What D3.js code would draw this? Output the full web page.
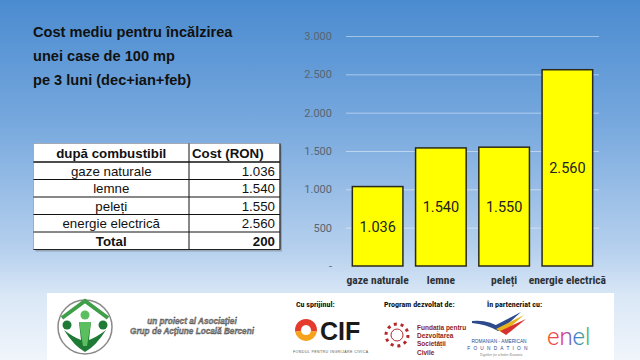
<!DOCTYPE html>
<html><head><meta charset="utf-8">
<script src="https://cdn.jsdelivr.net/npm/d3@7"></script>
<style>
html,body{margin:0;padding:0;overflow:hidden;}
svg{display:block;}
</style></head>
<body>
<script>
// ---------- data ----------
const categories = ["gaze naturale", "lemne", "peleți", "energie electrică"];
const costs = [1036, 1540, 1550, 2560];
const yTicks = [0, 500, 1000, 1500, 2000, 2500, 3000];
const titleLines = ["Cost mediu pentru încălzirea", "unei case de 100 mp", "pe 3 luni (dec+ian+feb)"];
const tableHeader = ["după combustibil", "Cost (RON)"];
const totalRow = ["Total", 200];
const assocLines = ["un proiect al Asociației", "Grup de Acțiune Locală Berceni"];
const footerHeads = ["Cu sprijinul:", "Program dezvoltat de:", "În parteneriat cu:"];
const fdscLines = ["Fundația pentru", "Dezvoltarea", "Societății", "Civile"];

const W = 640, H = 360;
const loc = d3.formatLocale({decimal: ",", thousands: ".", grouping: [3], currency: ["", ""]});
const fmt = loc.format(",d");

const svg = d3.select("body").append("svg").attr("width", W).attr("height", H);
const defs = svg.append("defs");
const bg = defs.append("linearGradient").attr("id", "bg").attr("x1", 0).attr("y1", 0).attr("x2", 0).attr("y2", 1);
[[0, "#4a8bd0"], [0.35, "#78a9de"], [0.7, "#b7d1ee"], [0.82, "#d9e7f6"], [1, "#f1f5fb"]].forEach(([o, c]) =>
  bg.append("stop").attr("offset", o).attr("stop-color", c));
svg.append("rect").attr("width", W).attr("height", H).attr("fill", "url(#bg)");

// ---------- title ----------
svg.append("g").selectAll("text").data(titleLines).join("text")
  .attr("x", 33).attr("y", (d, i) => 37 + i * 24)
  .attr("font-family", "Liberation Sans, Arial, sans-serif").attr("font-weight", "bold")
  .attr("font-size", 14.6).attr("fill", "#111").text(d => d);

// ---------- chart ----------
const x = d3.scaleBand().domain(categories).range([346, 599]).paddingInner(0.2).paddingOuter(0.1);
const y = d3.scaleLinear().domain([0, 3000]).range([266, 36]);

svg.append("g").attr("transform", "translate(346,0)")
  .call(d3.axisLeft(y).tickValues(yTicks.filter(v => v > 0)).tickSize(-253).tickFormat(""))
  .call(g => g.select(".domain").remove())
  .call(g => g.selectAll("line").attr("stroke", "rgba(255,255,255,0.45)"));

svg.append("g").attr("transform", "translate(346,0)")
  .call(d3.axisLeft(y).tickValues(yTicks).tickSize(0).tickPadding(14).tickFormat(v => v === 0 ? "-" : fmt(v)))
  .call(g => g.select(".domain").remove())
  .call(g => g.selectAll("text").attr("font-family", "Roboto, sans-serif").attr("font-size", 11).attr("fill", "#5a6470"));

const base = svg.append("g").attr("transform", "translate(0,266)");
base.append("line").attr("x1", 346).attr("x2", 599).attr("stroke", "#c9d7e6").attr("stroke-width", 1);
const bounds = categories.map(c => x(c) - x.step() * x.paddingInner() / 2).concat([599]);
base.selectAll(".tk").data(bounds).join("line").attr("class", "tk")
  .attr("x1", d => d).attr("x2", d => d).attr("y1", 0).attr("y2", 4).attr("stroke", "#c9d7e6");

svg.append("g").selectAll("rect").data(costs).join("rect")
  .attr("x", (d, i) => x(categories[i])).attr("width", x.bandwidth())
  .attr("y", d => y(d)).attr("height", d => y(0) - y(d))
  .attr("fill", "#ffff00").attr("stroke", "#2a2a1a").attr("stroke-width", 1.5);

svg.append("g").selectAll("text").data(costs).join("text")
  .attr("x", (d, i) => x(categories[i]) + x.bandwidth() / 2)
  .attr("y", d => (y(d) + y(0)) / 2).attr("dy", "0.36em").attr("text-anchor", "middle")
  .attr("font-family", "Roboto, sans-serif").attr("font-size", 14.5).attr("fill", "#222")
  .text(d => fmt(d));

svg.append("g").selectAll("text").data(categories).join("text")
  .attr("x", d => x(d) + x.bandwidth() / 2).attr("y", 284).attr("text-anchor", "middle")
  .attr("font-family", "Liberation Sans Narrow, Roboto Condensed, Roboto, sans-serif")
  .attr("font-weight", "bold").attr("font-size", 11.5).attr("fill", "#2d3136")
  .text(d => d);

// ---------- table ----------
const tX = 33.5, tW = 246.5, colX = 189, rowTop = [143.5, 162, 179.5, 197, 214.5, 232, 249.5];
const tbl = svg.append("g");
tbl.append("rect").attr("x", tX + 2).attr("y", rowTop[0] + 2).attr("width", tW).attr("height", rowTop[6] - rowTop[0])
  .attr("fill", "#7f8a96").attr("opacity", 0.6);
tbl.append("rect").attr("x", tX).attr("y", rowTop[0]).attr("width", tW).attr("height", rowTop[6] - rowTop[0])
  .attr("fill", "#fff").attr("stroke", "#9aa0a8").attr("stroke-width", 0.8);
tbl.selectAll(".hl").data(rowTop.slice(1, 6)).join("line").attr("class", "hl")
  .attr("x1", tX).attr("x2", tX + tW).attr("y1", d => d).attr("y2", d => d)
  .attr("stroke", "#111").attr("stroke-width", (d, i) => i === 0 ? 1.6 : 1);
tbl.append("line").attr("x1", colX).attr("x2", colX).attr("y1", rowTop[0]).attr("y2", rowTop[6]).attr("stroke", "#111");
tbl.append("line").attr("x1", tX + tW).attr("x2", tX + tW).attr("y1", rowTop[0]).attr("y2", rowTop[6]).attr("stroke", "#222").attr("stroke-width", 1.2);
tbl.append("line").attr("x1", tX).attr("x2", tX + tW).attr("y1", rowTop[6]).attr("y2", rowTop[6]).attr("stroke", "#222").attr("stroke-width", 1.2);

const rows = [tableHeader].concat(categories.map((c, i) => [c, costs[i]])).concat([totalRow]);
const tf = "Liberation Sans, Arial, sans-serif";
rows.forEach((r, i) => {
  const cy = (rowTop[i] + rowTop[i + 1]) / 2;
  const bold = i === 0 || i === rows.length - 1;
  tbl.append("text").attr("x", (tX + colX) / 2).attr("y", cy).attr("dy", "0.36em").attr("text-anchor", "middle")
    .attr("font-family", tf).attr("font-size", 13.3).attr("font-weight", bold ? "bold" : "normal").attr("fill", "#111")
    .text(r[0]);
  tbl.append("text").attr("x", i === 0 ? colX + 3 : tX + tW - 5).attr("y", cy).attr("dy", "0.36em")
    .attr("text-anchor", i === 0 ? "start" : "end")
    .attr("font-family", tf).attr("font-size", 13.3).attr("font-weight", bold ? "bold" : "normal").attr("fill", "#111")
    .text(typeof r[1] === "number" ? fmt(r[1]) : r[1]);
});

// ---------- footer ----------
const ft = svg.append("g");
const nf = "Liberation Sans Narrow, Roboto Condensed, Roboto, sans-serif";
ft.append("rect").attr("x", 47).attr("y", 293).attr("width", 567).attr("height", 67).attr("fill", "#fff");
// association logo
ft.append("circle").attr("cx", 85).attr("cy", 327).attr("r", 27).attr("fill", "#fff").attr("stroke", "#8a8a8a").attr("stroke-width", 1.5);
ft.append("path").attr("d", "M62,318 L85,301 L108,318").attr("fill", "none").attr("stroke", "#3f9e48").attr("stroke-width", 4);
ft.append("path").attr("d", "M64,330 Q74,346 85,352 Q96,346 106,330 Q97,337 89,340 L91,322 L79,322 L81,340 Q73,337 64,330Z").attr("fill", "#1f7a35");
ft.append("path").attr("d", "M79,322 L91,322 L87,346 L83,346Z").attr("fill", "#5cbf5f");
ft.append("circle").attr("cx", 85).attr("cy", 315).attr("r", 4.5).attr("fill", "#5cbf5f");
ft.append("circle").attr("cx", 67).attr("cy", 325).attr("r", 4.5).attr("fill", "#1f7a35");
ft.append("circle").attr("cx", 103).attr("cy", 325).attr("r", 4.5).attr("fill", "#1f7a35");
ft.selectAll(".assoc").data(assocLines).join("text").attr("class", "assoc")
  .attr("x", 192).attr("y", (d, i) => 324 + i * 9.5).attr("text-anchor", "middle")
  .attr("font-family", "Liberation Sans, Arial, sans-serif").attr("font-style", "italic").attr("font-weight", "bold")
  .attr("font-size", 8.2).attr("fill", "#9a9a9a").attr("stroke", "#333").attr("stroke-width", 0.35).text(d => d);

// headings
ft.selectAll(".fh").data(footerHeads).join("text").attr("class", "fh")
  .attr("x", (d, i) => [296, 384, 487][i]).attr("y", 307)
  .attr("font-family", nf).attr("font-weight", "bold").attr("font-size", 8).attr("fill", "#111").text(d => d);

// CIF logo
const arc = d3.arc().innerRadius(5).outerRadius(11);
const cif = ft.append("g").attr("transform", "translate(306,330)");
cif.append("path").attr("d", arc({startAngle: -Math.PI * 0.55, endAngle: Math.PI * 0.55})).attr("fill", "#e53b2c");
cif.append("path").attr("d", arc({startAngle: Math.PI * 0.55, endAngle: Math.PI * 1.45})).attr("fill", "#f5a31a");
ft.append("text").attr("x", 320).attr("y", 340).attr("font-family", "Liberation Sans, Arial, sans-serif")
  .attr("font-weight", "bold").attr("font-size", 25).attr("fill", "#1a1a1a").text("CIF");
ft.append("text").attr("x", 293).attr("y", 353).attr("font-family", "Liberation Sans, Arial, sans-serif")
  .attr("font-size", 3.6).attr("fill", "#555").attr("letter-spacing", 0.4).text("FONDUL PENTRU ÎNGRIJARE CIVICĂ");

// FDSC logo
const fd = ft.append("g").attr("transform", "translate(397,335)");
fd.append("circle").attr("r", 11).attr("fill", "none").attr("stroke", "#b5262a").attr("stroke-width", 3).attr("stroke-dasharray", "3 3.9");
fd.append("circle").attr("r", 6).attr("fill", "none").attr("stroke", "#b5262a").attr("stroke-width", 1);
ft.selectAll(".fd").data(fdscLines).join("text").attr("class", "fd")
  .attr("x", 417).attr("y", (d, i) => 330 + i * 8.2)
  .attr("font-family", "Liberation Sans, Arial, sans-serif").attr("font-weight", "bold")
  .attr("font-size", 6.5).attr("fill", "#8c1d24").text(d => d);

// Romanian-American Foundation
ft.append("path").attr("d", "M472,321 Q488,319 503,329 L498,331 Q486,324 472,323Z").attr("fill", "#2c4a8c");
ft.append("path").attr("d", "M492,327 L521,312 L500,331Z").attr("fill", "#2c4a8c");
ft.append("path").attr("d", "M496,329 L524,315 L503,333Z").attr("fill", "#e8b21c");
ft.append("path").attr("d", "M500,331 L526,319 L506,335Z").attr("fill", "#d8302f");
ft.append("text").attr("x", 499).attr("y", 343).attr("text-anchor", "middle").attr("font-family", "Liberation Sans, Arial, sans-serif")
  .attr("font-size", 4.8).attr("fill", "#2c4a8c").text("ROMANIAN - AMERICAN");
ft.append("text").attr("x", 499).attr("y", 349.5).attr("text-anchor", "middle").attr("font-family", "Liberation Sans, Arial, sans-serif")
  .attr("font-size", 4.8).attr("letter-spacing", 3.2).attr("fill", "#2c4a8c").text("FOUNDATION");
ft.append("text").attr("x", 501).attr("y", 355.5).attr("text-anchor", "middle").attr("font-family", "Liberation Serif, serif")
  .attr("font-style", "italic").attr("font-size", 3.5).attr("fill", "#777").text("Together for a better Romania");

// enel
const eg = defs.append("linearGradient").attr("id", "enel").attr("x1", 0).attr("x2", 1).attr("y1", 0).attr("y2", 0);
[[0, "#f15a29"], [0.35, "#e5317a"], [0.65, "#3d7fd6"], [1, "#58b947"]].forEach(([o, c]) =>
  eg.append("stop").attr("offset", o).attr("stop-color", c));
ft.append("text").attr("x", 547).attr("y", 345).attr("font-family", "Roboto, sans-serif").attr("font-weight", 300)
  .attr("font-size", 24).attr("fill", "url(#enel)").text("enel");
</script>
</body></html>
